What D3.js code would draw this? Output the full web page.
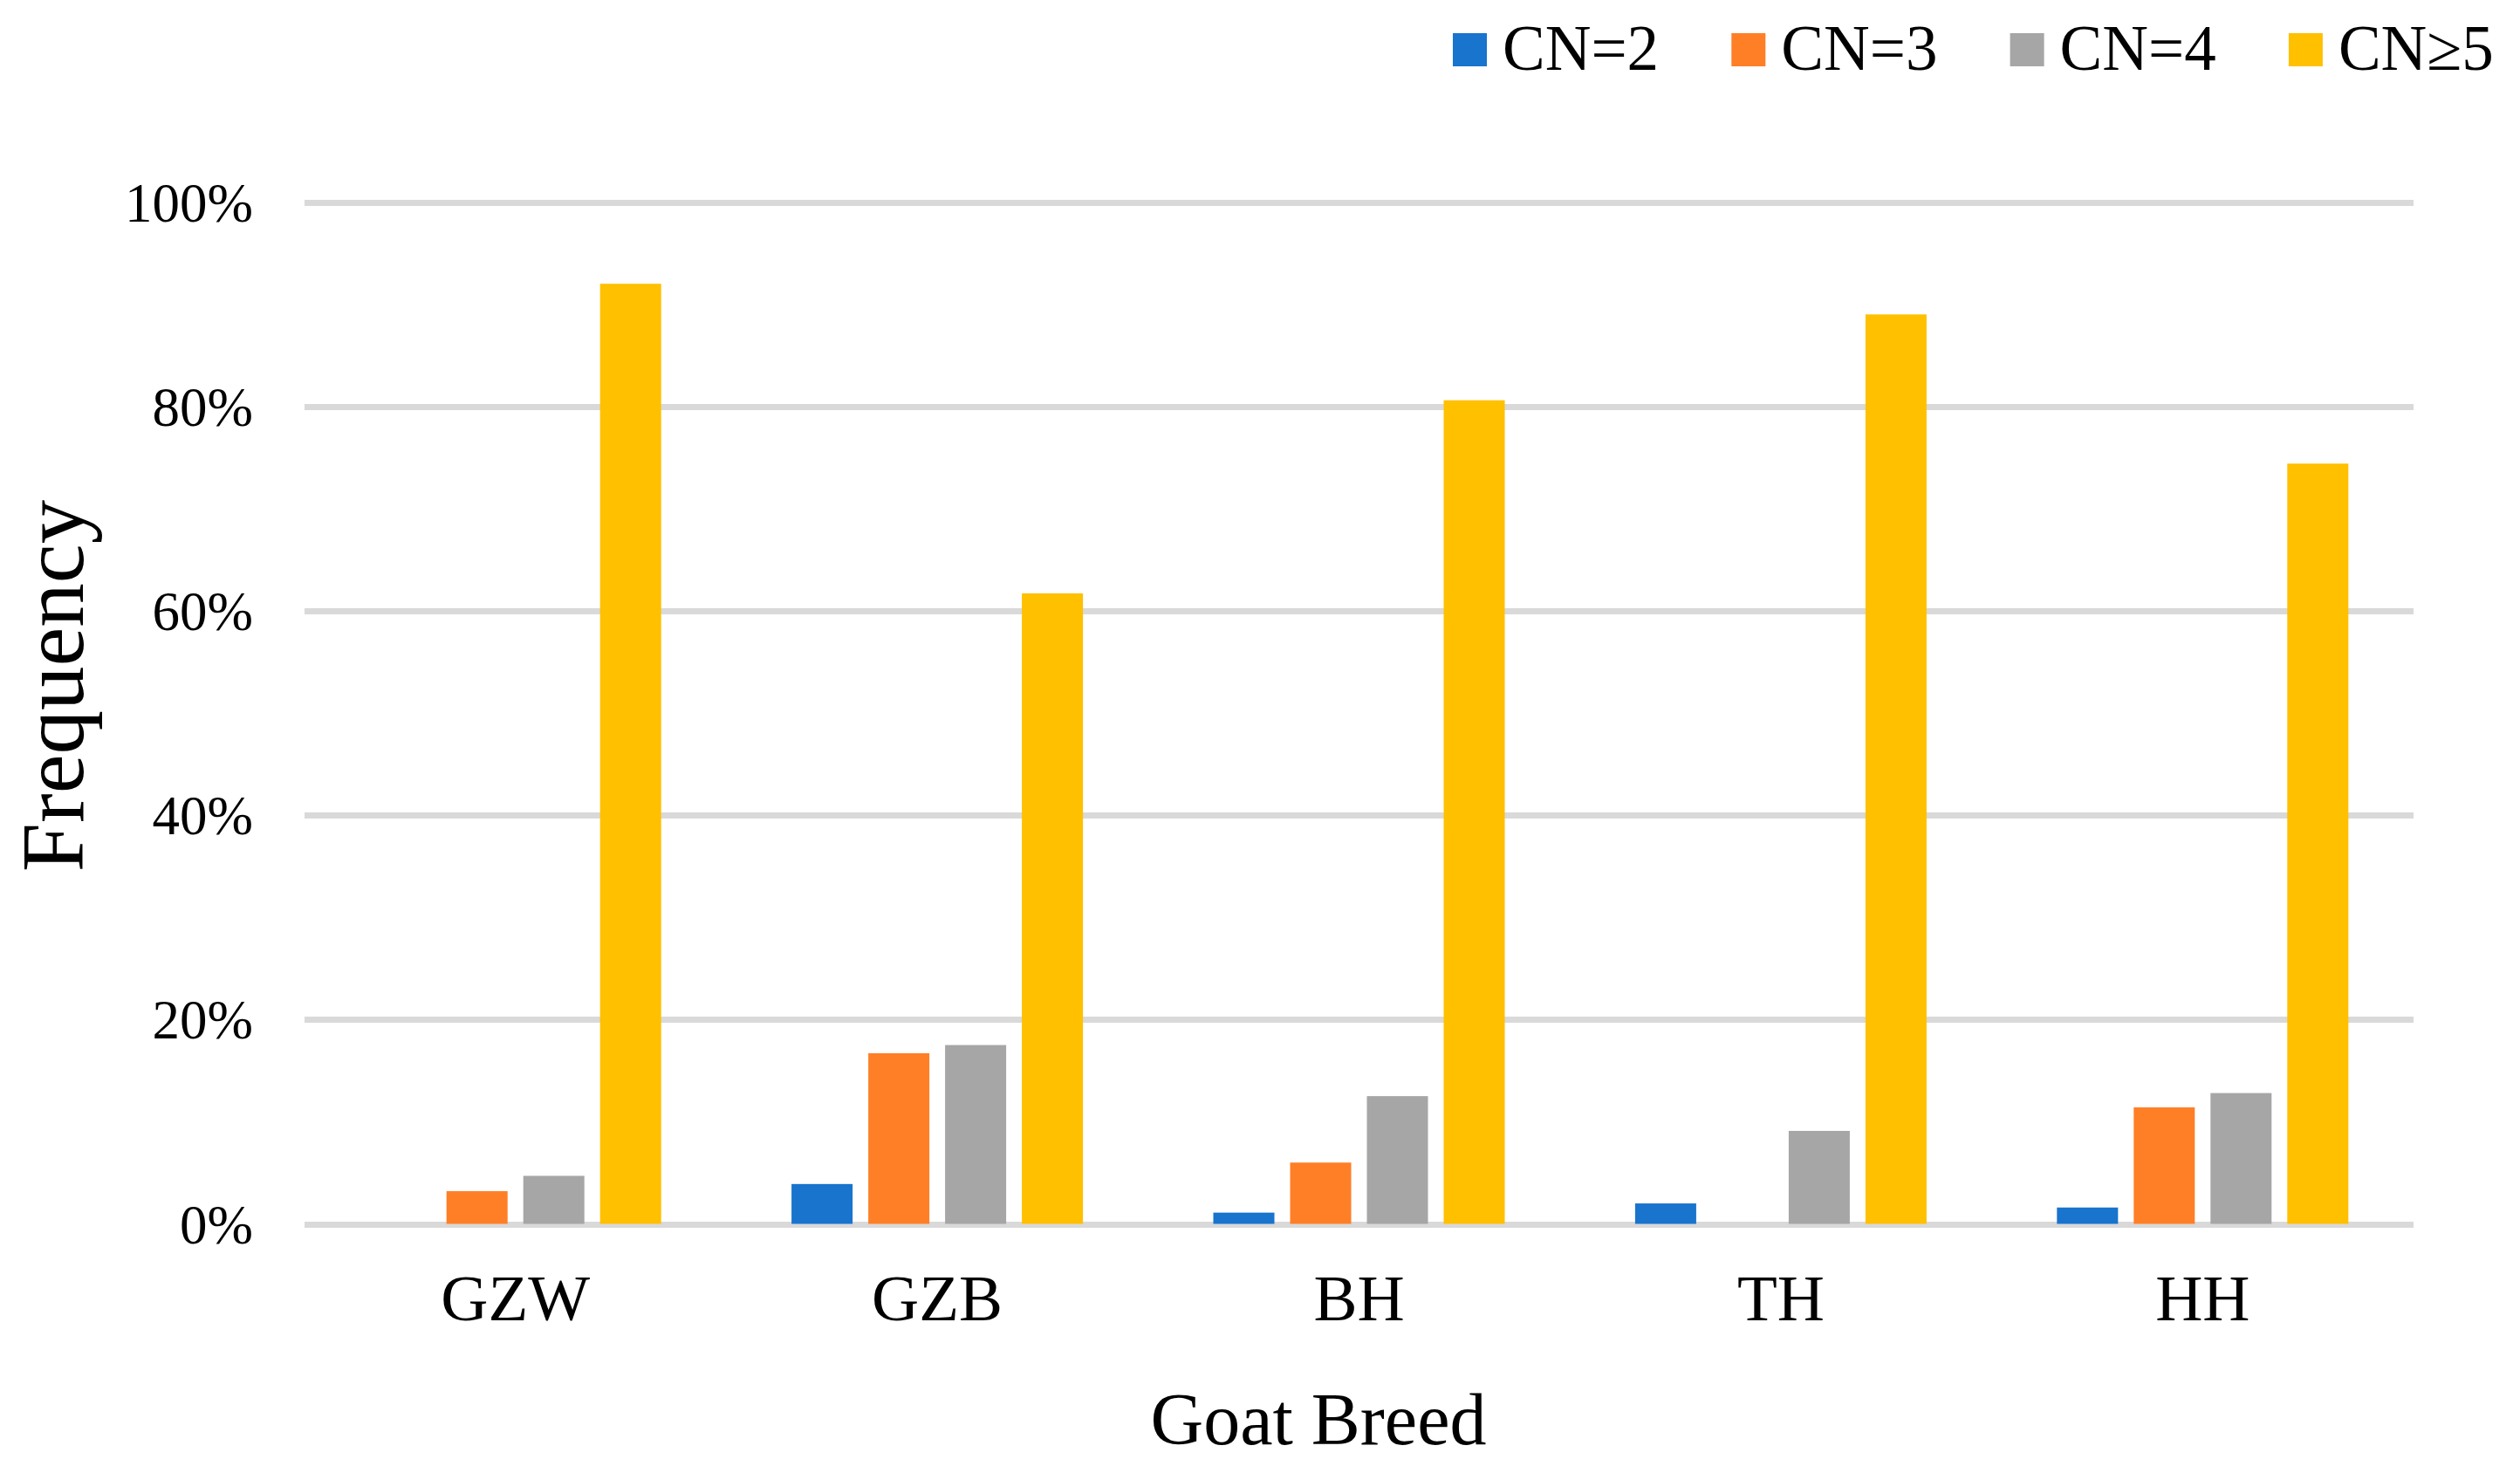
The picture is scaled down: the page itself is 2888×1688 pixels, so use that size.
<!DOCTYPE html>
<meta charset="utf-8">
<style>
body { margin: 0; background: #fff; }
text { font-family: "Liberation Serif", "Times New Roman", serif; fill: #000; }
.grid line { stroke: #d9d9d9; stroke-width: 7; shape-rendering: crispEdges; }
.grid path { stroke-width: 0; }
</style>
<body>
<script src="https://d3js.org/d3.v7.min.js"></script>
<script>

// data (percent)
var breeds = ["GZW", "GZB", "BH", "TH", "HH"];
var series = ["CN=2", "CN=3", "CN=4", "CN\u22655"];
var cn2 = [0, 3.9, 1.1, 2.0, 1.6];
var cn3 = [3.2, 16.7, 6.0, 0, 11.4];
var cn4 = [4.7, 17.5, 12.5, 9.1, 12.8];
var cn5 = [92.0, 61.7, 80.6, 89.0, 74.4];
var yTicks = [0, 20, 40, 60, 80, 100];
var colors = ["#1874CD", "#FF7F27", "#A6A6A6", "#FFC000"];

var values = [cn2, cn3, cn4, cn5];

var W = 2888, H = 1688;
var plot = {left: 349, right: 2766, top: 231.5, bottom: 1402.5};

var svg = d3.select("body").append("svg")
	.attr("width", W)
	.attr("height", H);

var x0 = d3.scaleBand().domain(breeds).range([plot.left, plot.right]);
var x1 = d3.scaleBand().domain(series)
	.range([74.7, 408.7])
	.paddingInner(0.2045)
	.paddingOuter(0);
var y = d3.scaleLinear().domain([0, 100]).range([plot.bottom, plot.top]);

// gridlines
svg.append("g")
	.attr("class", "grid")
	.attr("transform", "translate(" + plot.left + ",0)")
	.call(d3.axisRight(y)
		.tickValues(yTicks)
		.tickSize(plot.right - plot.left)
		.tickFormat(""));

// y tick labels
svg.append("g").selectAll("text")
	.data(yTicks)
	.join("text")
	.attr("x", 290)
	.attr("y", d => y(d))
	.attr("dy", "0.35em")
	.attr("text-anchor", "end")
	.style("font-size", "63px")
	.text(d => d + "%");

// bars
var flat = [];
series.forEach(function(s, i) {
	breeds.forEach(function(b, j) {
		flat.push({breed: b, series: s, value: values[i][j], color: colors[i]});
	});
});

svg.append("g").selectAll("rect")
	.data(flat)
	.join("rect")
	.attr("x", d => x0(d.breed) + x1(d.series))
	.attr("y", d => y(d.value))
	.attr("width", x1.bandwidth())
	.attr("height", d => y(0) - y(d.value))
	.attr("fill", d => d.color);

// category labels
svg.append("g").selectAll("text")
	.data(breeds)
	.join("text")
	.attr("x", d => x0(d) + x1.range()[0] + (x1.range()[1] - x1.range()[0]) / 2)
	.attr("y", 1513)
	.attr("text-anchor", "middle")
	.style("font-size", "75px")
	.text(d => d);

// axis titles
svg.append("text")
	.attr("x", 1511)
	.attr("y", 1655)
	.attr("text-anchor", "middle")
	.style("font-size", "84px")
	.text("Goat Breed");

svg.append("text")
	.attr("transform", "translate(95,786) rotate(-90)")
	.attr("text-anchor", "middle")
	.style("font-size", "101px")
	.text("Frequency");

// legend
var legend = svg.append("g").selectAll("g")
	.data(series)
	.join("g")
	.attr("transform", (d, i) => "translate(" + (1665 + i * 319.3) + ",38)");

legend.append("rect")
	.attr("width", 39)
	.attr("height", 38)
	.attr("fill", (d, i) => colors[i]);

legend.append("text")
	.attr("x", 57)
	.attr("y", 42)
	.style("font-size", "73px")
	.text(d => d);

</script>
</body>
